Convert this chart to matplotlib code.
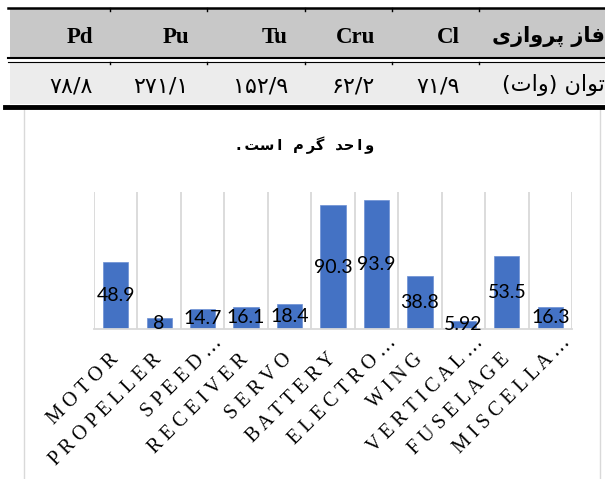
import numpy as np
import matplotlib
matplotlib.use("Agg")
import matplotlib.pyplot as plt
from matplotlib.patches import Rectangle
from matplotlib.transforms import ScaledTranslation

# table above the chart
phases = ["Pd", "Pu", "Tu", "Cru", "Cl"]
power = ["۷۸/۸", "۲۷۱/۱", "۱۵۲/۹", "۶۲/۲", "۷۱/۹"]
phase_title = "فاز پروازی"
power_title = "توان (وات)"

# chart
chart_title = "واحد گرم است."
categories = ["MOTOR", "PROPELLER", "SPEED…", "RECEIVER", "SERVO", "BATTERY",
              "ELECTRO…", "WING", "VERTICAL…", "FUSELAGE", "MISCELLA…"]
weights = [48.9, 8, 14.7, 16.1, 18.4, 90.3, 93.9, 38.8, 5.92, 53.5, 16.3]

# contextual forms: isolated, final, initial, medial (None = does not join left)
FORMS = {
    "ا": ("\uFE8D", "\uFE8E", None, None),
    "د": ("\uFEA9", "\uFEAA", None, None),
    "ر": ("\uFEAD", "\uFEAE", None, None),
    "ز": ("\uFEAF", "\uFEB0", None, None),
    "و": ("\uFEED", "\uFEEE", None, None),
    "ت": ("\uFE95", "\uFE96", "\uFE97", "\uFE98"),
    "ح": ("\uFEA1", "\uFEA2", "\uFEA3", "\uFEA4"),
    "س": ("\uFEB1", "\uFEB2", "\uFEB3", "\uFEB4"),
    "ف": ("\uFED1", "\uFED2", "\uFED3", "\uFED4"),
    "م": ("\uFEE1", "\uFEE2", "\uFEE3", "\uFEE4"),
    "ن": ("\uFEE5", "\uFEE6", "\uFEE7", "\uFEE8"),
    "پ": ("\uFB56", "\uFB57", "\uFB58", "\uFB59"),
    "گ": ("\uFB92", "\uFB93", "\uFB94", "\uFB95"),
    "ی": ("\uFBFC", "\uFBFD", "\uFBFE", "\uFBFF"),
}
MIRROR = {"(": ")", ")": "("}


def shape_rtl(text, spacing=""):
    """Join Persian letters and put them in visual (left to right) order."""
    glyphs = []
    joined = []
    for i, ch in enumerate(text):
        if ch not in FORMS:
            glyphs.append(MIRROR.get(ch, ch))
            joined.append(False)
            continue
        prev = text[i - 1] if i > 0 else None
        nxt = text[i + 1] if i < len(text) - 1 else None
        jp = prev in FORMS and FORMS[prev][2] is not None
        jn = nxt in FORMS and FORMS[ch][2] is not None
        iso, fin, ini, med = FORMS[ch]
        glyphs.append(med if jp and jn else fin if jp else ini if jn else iso)
        joined.append(jn)
    out = ""
    for g, j in zip(glyphs, joined):
        out += g
        if not j:
            out += spacing
    return out.rstrip()[::-1]


fig = plt.figure(figsize=(6.05, 4.79), dpi=100)

# overlay in pixel coordinates for the table and chart frame
bg = fig.add_axes([0, 0, 1, 1], zorder=-1)
bg.set_xlim(0, 605)
bg.set_ylim(479, 0)
bg.set_facecolor("none")
bg.axis("off")

bg.add_patch(Rectangle((24, 108), 576, 380, facecolor="white", edgecolor="#d9d9d9", lw=1))
bg.add_patch(Rectangle((10, 9), 600, 48, facecolor="#c8c8c8", edgecolor="none"))
bg.add_patch(Rectangle((10, 62), 600, 42, facecolor="#ececec", edgecolor="none"))
bg.plot([8, 605], [8, 8], color="black", lw=1.8)
bg.plot([8, 605], [58.3, 58.3], color="black", lw=1.5)
bg.plot([8, 605], [61.5, 61.5], color="black", lw=0.8)
bg.plot([5, 605], [107, 107], color="black", lw=3.5)
for xb in [110, 207, 305, 392, 479]:
    bg.plot([xb, xb], [8, 11], color="black", lw=1)
    bg.plot([xb, xb], [61.5, 64], color="black", lw=1)

cell_right = [93, 189, 288, 375, 460]
for x, ph, pw in zip(cell_right, phases, power):
    bg.text(x, 37, ph, ha="right", va="center", family="Liberation Serif",
            weight="bold", fontsize=16.5)
    bg.text(x, 86, pw, ha="right", va="center", family="DejaVu Sans", fontsize=16)
bg.text(605, 36, shape_rtl(phase_title), ha="right", va="center",
        family="DejaVu Sans", weight="bold", fontsize=15)
bg.text(605, 85, shape_rtl(power_title), ha="right", va="center",
        family="DejaVu Sans", fontsize=16)

# bar chart
ax = fig.add_axes([94 / 605, 1 - 329 / 479, 478 / 605, 137 / 479])
ax.set_facecolor("none")
x = np.arange(len(categories))
bars = ax.bar(x, weights, width=0.58, color="#4472C4", edgecolor="#6b8fd3", lw=0.5, zorder=2)
ax.bar_label(bars, labels=[f"{w:g}" for w in weights], label_type="center",
             family="Lato", fontsize=14, color="black", zorder=3)

ax.set_xlim(-0.5, len(categories) - 0.5)
ax.set_ylim(0, 100)
ax.set_xticks(np.arange(-0.5, len(categories)), minor=True)
ax.grid(which="minor", axis="x", color="#d9d9d9", lw=1.3)
ax.tick_params(which="both", length=0)
ax.set_yticks([])
for s in ["top", "left", "right"]:
    ax.spines[s].set_visible(False)
ax.spines["bottom"].set_color("#d9d9d9")
ax.spines["bottom"].set_linewidth(1.3)

ax.set_xticks(x)
ax.set_xticklabels([" ".join(c) for c in categories], rotation=45, ha="right",
                   va="center", rotation_mode="anchor", family="Liberation Serif",
                   fontsize=14.5)
ax.tick_params(axis="x", pad=20)
for lab in ax.get_xticklabels():
    if lab.get_text().endswith("…"):
        lab.set_transform(lab.get_transform() + ScaledTranslation(0.17, 0.17, fig.dpi_scale_trans))

fig.text(305 / 605, 1 - 145 / 479, shape_rtl(chart_title, spacing="\u2009"), ha="center",
         va="center", family="DejaVu Sans", weight="bold", fontsize=10.5)

plt.savefig("out.png", dpi=100)
plt.close()
